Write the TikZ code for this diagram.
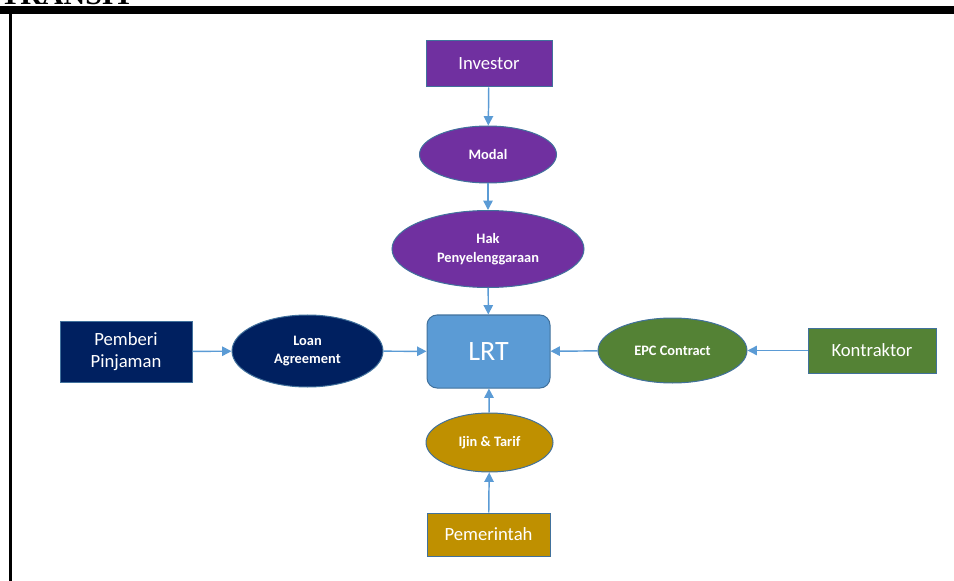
\documentclass[tikz,border=0pt]{standalone}
\usepackage{fontspec}
\setmainfont{Carlito}
\newfontfamily\headfont{Liberation Serif}
\usetikzlibrary{shapes.geometric,arrows.meta}
\definecolor{ungu}{HTML}{7030A0}
\definecolor{navy}{HTML}{002060}
\definecolor{hijau}{HTML}{548235}
\definecolor{emas}{HTML}{BF9000}
\definecolor{birumuda}{HTML}{5B9BD5}
\definecolor{garis}{HTML}{41719C}
\tikzset{
	kotak/.style={rectangle, draw=garis, line width=0.75pt, text=white, inner sep=0pt, align=center, font=\fontsize{14}{16}\selectfont},
	elips/.style={ellipse, draw=garis, line width=0.75pt, text=white, inner sep=0pt, align=center, font=\bfseries\fontsize{10.8}{14}\selectfont},
	panah/.style={-{Triangle[length=7pt,width=7pt]}, draw=birumuda, line width=1.1pt}
}
\begin{document}
\begin{tikzpicture}[x=0.75pt,y=-0.75pt]
	\useasboundingbox (0,0) rectangle (954,581);
	\node[anchor=base west, inner sep=0pt, font=\headfont\bfseries\fontsize{22.5}{24}\selectfont] (judul) at (0,5) {TRANSIT};
	\draw[line width=6pt] (0,10) -- (954,10);
	\draw[line width=2.25pt] (10.5,13) -- (10.5,581);

	\node[kotak, fill=ungu, minimum width=94.5pt, minimum height=34.5pt] (investor) at (489,64) {Investor};
	\node[elips, fill=ungu, minimum width=102.75pt, minimum height=42.75pt] (modal) at (488,154.5) {Modal};
	\node[elips, fill=ungu, minimum width=144pt, minimum height=57.75pt] (hak) at (488,249) {Hak\\Penyelenggaraan};
	\node[kotak, fill=birumuda, rounded corners=7.5pt, minimum width=92.25pt, minimum height=54.75pt, font=\fontsize{21}{24}\selectfont] (lrt) at (488.5,351.5) {LRT};
	\node[kotak, fill=navy, minimum width=99pt, minimum height=45.75pt] (pemberi) at (126,351.5) {Pemberi\\Pinjaman};
	\node[elips, fill=navy, minimum width=113.25pt, minimum height=54pt] (loan) at (307.5,351) {Loan\\Agreement};
	\node[elips, fill=hijau, minimum width=111.75pt, minimum height=48.75pt] (epc) at (672.5,350.5) {EPC Contract};
	\node[kotak, fill=hijau, minimum width=96pt, minimum height=33.75pt] (kontraktor) at (872,350.5) {Kontraktor};
	\node[elips, fill=emas, minimum width=95.25pt, minimum height=44.25pt] (ijin) at (489.5,442.5) {Ijin \& Tarif};
	\node[kotak, fill=emas, minimum width=92.25pt, minimum height=32.25pt] (pemerintah) at (488.5,534.5) {Pemerintah};

	\draw[panah] (investor) -- (modal);
	\draw[panah] (modal) -- (hak);
	\draw[panah] (hak) -- (lrt);
	\draw[panah] (pemberi) -- (loan);
	\draw[panah] (loan) -- (lrt);
	\draw[panah] (kontraktor) -- (epc);
	\draw[panah] (epc) -- (lrt);
	\draw[panah] (pemerintah) -- (ijin);
	\draw[panah] (ijin) -- (lrt);
\end{tikzpicture}
\end{document}
